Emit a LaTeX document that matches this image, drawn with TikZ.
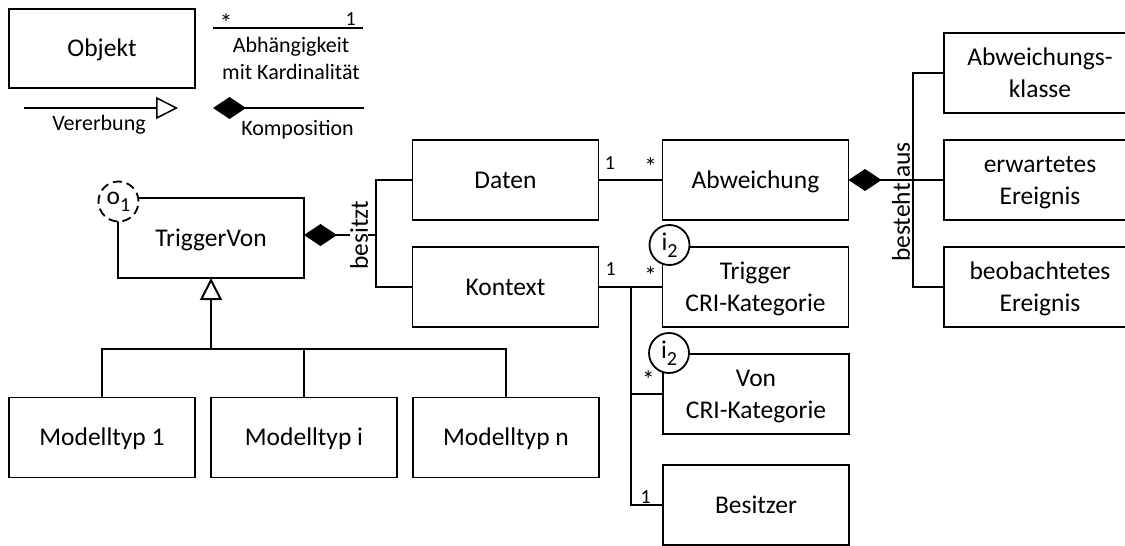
\documentclass[tikz,border=0pt]{standalone}
\usepackage{fontspec}
\setmainfont{Carlito}
\usetikzlibrary{arrows.meta}
% lowered index inside the role circles
\newcommand\rolesub[1]{\raisebox{-7pt}{\fontsize{20}{20}\selectfont #1}}
\begin{document}
\begin{tikzpicture}[x=1pt,y=-1pt,
  every node/.style={inner sep=0pt, outer sep=0pt},
  cls/.style={draw, line width=1.8pt, minimum width=186pt, minimum height=80pt,
    font=\fontsize{25.5}{31.5}\selectfont, text height=19pt, text depth=2.4pt},
  cls2/.style={cls, align=center, text height=50.5pt, text depth=2.4pt},
  link/.style={line width=1.5pt},
  comp/.style={link, {Diamond[length=33pt,width=22pt,fill=black]}-},
  inh/.style={link, -{Triangle[open,length=22pt,width=22pt]}},
  card/.style={font=\fontsize{20}{20}\selectfont, anchor=north},
  many/.style={font=\fontsize{25}{25}\selectfont, anchor=north},
  lbl/.style={font=\fontsize{22}{27}\selectfont, align=center},
  rel/.style={font=\fontsize{25.5}{31.5}\selectfont, rotate=90},
  role/.style={circle, draw, fill=white, line width=1.8pt, minimum size=40pt,
    font=\fontsize{25.5}{31.5}\selectfont},
]
\useasboundingbox (0,0) rectangle (1125,546);
\fill[white] (0,0) rectangle (1125,546);
\clip (0,0) rectangle (1125,546);

% ---------- legend ----------
\node[cls, minimum height=79pt] (obj) at (102,48.5) {Objekt};

\coordinate (d1) at (213,28);
\coordinate (d2) at (363,28);
\draw[link] (d1) -- (d2);
\node[many] (dmany) at (226,14) {*};
\node[card] (done) at (350.8,12.5) {1};
\node[lbl] (ldep) at (291,58) {Abhängigkeit\\mit Kardinalität};

\coordinate (v1) at (24,108);
\coordinate (v2) at (178,108);
\draw[inh] (v1) -- (v2);
\node[lbl, anchor=base] (lver) at (99,130) {Vererbung};

\coordinate (k1) at (213,108);
\coordinate (k2) at (364,108);
\draw[comp] (k1) -- (k2);
\node[lbl, anchor=base] (lkom) at (297.5,135) {Komposition};

% ---------- classes ----------
\node[cls] (trig) at (211,238) {TriggerVon};
\node[cls] (dat) at (505.5,180) {Daten};
\node[cls] (kon) at (505.5,287) {Kontext};
\node[cls] (abw) at (755.5,180) {Abweichung};
\node[cls2] (tcri) at (755.5,287) {Trigger\\CRI-Kategorie};
\node[cls2] (vcri) at (756,394) {Von\\CRI-Kategorie};
\node[cls] (bes) at (756,505) {Besitzer};
\node[cls2, minimum width=192pt] (akl) at (1040,73) {Abweichungs-\\klasse};
\node[cls2, minimum width=192pt] (ere) at (1040,180) {erwartetes\\Ereignis};
\node[cls2, minimum width=192pt] (beo) at (1040,287) {beobachtetes\\Ereignis};
\node[cls] (m1) at (102,437.5) {Modelltyp 1};
\node[cls] (mi) at (304,437.5) {Modelltyp i};
\node[cls] (mn) at (506,437.5) {Modelltyp n};

% ---------- TriggerVon besitzt Daten / Kontext ----------
\coordinate (jb) at (376,235);
\draw[link] (dat.west) -| (jb) |- (kon.west);
\draw[comp] (trig.east |- jb) -- (jb);
\node[rel, fill=white, inner xsep=2pt] (lbes) at (359,235) {besitzt};

% ---------- Daten -> Abweichung ----------
\draw[link] (dat.east) -- (abw.west);
\node[card] (c1) at (610,156.5) {1};
\node[many] (c2) at (650.7,158) {*};

% ---------- Abweichung besteht aus ----------
\coordinate (ja) at (913,180);
\draw[comp] (abw.east) -- (ja);
\draw[link] (akl.west) -| (ja) |- (beo.west);
\draw[link] (ja) -- (ere.west);
\node[rel] (lbau) at (901,202) {besteht aus};

% ---------- Kontext associations ----------
\coordinate (jk) at (631,287);
\draw[link] (kon.east) -- (tcri.west);
\draw[link] (jk) |- (vcri.west);
\draw[link] (jk) |- (bes.west);
\node[card] (c3) at (610.7,263) {1};
\node[many] (c4) at (650.7,266.5) {*};
\node[many] (c5) at (648.3,371) {*};
\node[card] (c6) at (645.7,491) {1};

% ---------- inheritance ----------
\coordinate (ji) at (211,349);
\draw[inh, line width=2pt] (ji) -- (trig.south);
\draw[link] (m1.north) |- (ji) -| (mn.north);
\draw[link] (mi.north) -- (mi.north |- ji);

% ---------- role markers ----------
\node[role] (r1) at ([xshift=7pt,yshift=2pt]tcri.north west) {i\rolesub{2}};
\node[role] (r2) at ([xshift=6pt,yshift=1pt]vcri.north west) {i\rolesub{2}};
\node[role, dash pattern=on 9pt off 5pt] (o1) at ([xshift=0.5pt,yshift=-3.5pt]trig.north west) {o\rolesub{1}};
\end{tikzpicture}
\end{document}
